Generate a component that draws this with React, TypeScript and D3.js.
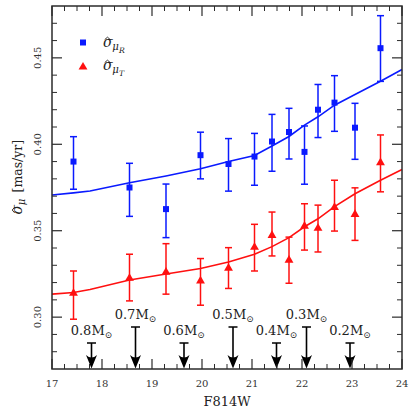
import React from "react";
import * as d3 from "d3";

const W = 416, H = 416;
const M = { left: 52, right: 14, top: 6, bottom: 47 };

// data points
const mags = [17.43, 18.55, 19.28, 19.97, 20.53, 21.05, 21.40, 21.74, 22.05, 22.32, 22.65, 23.06, 23.57];
const sigR = [0.390, 0.375, 0.3625, 0.3937, 0.3886, 0.3929, 0.4016, 0.4071, 0.3956, 0.420, 0.4241, 0.4096, 0.4556];
const sigRLo = [0.374, 0.3583, 0.346, 0.380, 0.3729, 0.3763, 0.3844, 0.3915, 0.3769, 0.4039, 0.4075, 0.3913, 0.4364];
const sigRHi = [0.4044, 0.389, 0.377, 0.407, 0.4033, 0.4063, 0.4173, 0.4208, 0.4106, 0.4346, 0.4397, 0.4237, 0.4744];
const sigT = [0.3138, 0.3225, 0.326, 0.321, 0.3283, 0.3404, 0.3473, 0.333, 0.3526, 0.3514, 0.3635, 0.3594, 0.3894];
const sigTLo = [0.2988, 0.3094, 0.3133, 0.3069, 0.3166, 0.3267, 0.3354, 0.3196, 0.3388, 0.3377, 0.3498, 0.3444, 0.3725];
const sigTHi = [0.3267, 0.3364, 0.3425, 0.3339, 0.3402, 0.3537, 0.3608, 0.3463, 0.3656, 0.3648, 0.3792, 0.3748, 0.4054];

// model curves
const curveX = [17.0, 17.43, 17.76, 18.55, 19.28, 19.97, 20.53, 21.05, 21.40, 21.74, 22.05, 22.32, 22.65, 23.06, 23.57, 24.0];
const curveR = [0.3707, 0.3719, 0.3730, 0.3777, 0.3817, 0.3859, 0.3900, 0.3935, 0.3990, 0.4045, 0.4111, 0.4159, 0.4226, 0.4288, 0.4365, 0.4433];
const curveT = [0.3133, 0.3143, 0.3160, 0.3215, 0.3250, 0.3281, 0.3319, 0.3364, 0.3408, 0.3460, 0.3523, 0.3569, 0.3639, 0.3714, 0.3792, 0.3854];

// mass markers
const massLabels = ["0.8", "0.7", "0.6", "0.5", "0.4", "0.3", "0.2"];
const massMags = [17.79, 18.67, 19.64, 20.62, 21.49, 22.09, 22.96];
const massLong = [false, true, false, true, false, true, false];

const xTicks = [17, 18, 19, 20, 21, 22, 23, 24];
const yTicks = [0.30, 0.35, 0.40, 0.45];
const yTickLabels = ["0.30", "0.35", "0.40", "0.45"];

const BLUE = "#0a1aff";
const RED = "#ff1010";
const AX = "#2b2b2b";
const FONT = "'DejaVu Serif', 'Liberation Serif', serif";
const TS = { fontFamily: FONT };

function Sigma({ x, y, size, sub, subsub }: { x: number; y: number; size: number; sub: string; subsub?: string }) {
  const hw = size * 0.2;
  const hx = x + size * 0.32;
  const hy = y - size * 0.7;
  return (
    <g>
      <text x={x} y={y} fontSize={size} fontStyle="italic" fill="#222" style={TS}>σ</text>
      <path d={`M${hx - hw},${hy + 2.4} L${hx},${hy} L${hx + hw},${hy + 2.4}`} fill="none" stroke="#222" strokeWidth={0.9} />
      <text x={x + size * 0.66} y={y + size * 0.22} fontSize={size * 0.72} fontStyle="italic" fill="#222" style={TS}>{sub}</text>
      {subsub ? (
        <text x={x + size * 1.15} y={y + size * 0.4} fontSize={size * 0.55} fontStyle="italic" fill="#222" style={TS}>{subsub}</text>
      ) : null}
    </g>
  );
}

export default function App() {
  const x = d3.scaleLinear().domain([17, 24]).range([M.left, W - M.right]);
  const y = d3.scaleLinear().domain([0.27, 0.48]).range([H - M.bottom, M.top]);
  const x0 = M.left, x1 = W - M.right, y0 = H - M.bottom, y1 = M.top;

  const line = d3.line<[number, number]>().x(d => x(d[0])).y(d => y(d[1]));
  const pR = line(curveX.map((v, i) => [v, curveR[i]] as [number, number])) || "";
  const pT = line(curveX.map((v, i) => [v, curveT[i]] as [number, number])) || "";

  const xMinor = d3.range(17, 24.001, 0.25).filter(v => Math.abs(v - Math.round(v)) > 1e-6);
  const yMinor = d3.range(0.28, 0.4701, 0.01).filter(v => yTicks.every(t => Math.abs(t - v) > 1e-6));

  const tri = d3.symbol().type(d3.symbolTriangle).size(34)() || "";
  const cap = 3.5;

  return (
    <svg width={W} height={H} style={{ position: "absolute", left: 0, top: 0, background: "#fff", fontFamily: FONT }}>
      {/* curves */}
      <path d={pR} fill="none" stroke={BLUE} strokeWidth={1.6} />
      <path d={pT} fill="none" stroke={RED} strokeWidth={1.6} />

      {/* error bars and markers */}
      {mags.map((m, i) => (
        <g key={"r" + i} stroke={BLUE} strokeWidth={1.5}>
          <line x1={x(m)} x2={x(m)} y1={y(sigRLo[i])} y2={y(sigRHi[i])} />
          <line x1={x(m) - cap} x2={x(m) + cap} y1={y(sigRLo[i])} y2={y(sigRLo[i])} />
          <line x1={x(m) - cap} x2={x(m) + cap} y1={y(sigRHi[i])} y2={y(sigRHi[i])} />
          <rect x={x(m) - 3} y={y(sigR[i]) - 3} width={6} height={6} fill={BLUE} stroke="none" />
        </g>
      ))}
      {mags.map((m, i) => (
        <g key={"t" + i} stroke={RED} strokeWidth={1.5}>
          <line x1={x(m)} x2={x(m)} y1={y(sigTLo[i])} y2={y(sigTHi[i])} />
          <line x1={x(m) - cap} x2={x(m) + cap} y1={y(sigTLo[i])} y2={y(sigTLo[i])} />
          <line x1={x(m) - cap} x2={x(m) + cap} y1={y(sigTHi[i])} y2={y(sigTHi[i])} />
          <path d={tri} transform={`translate(${x(m)},${y(sigT[i])})`} fill={RED} stroke="none" />
        </g>
      ))}

      {/* mass arrows */}
      {massMags.map((m, i) => {
        const cx = x(m);
        const top = massLong[i] ? y0 - 42 : y0 - 26;
        return (
          <g key={"a" + i}>
            <line x1={cx - 4.5} x2={cx + 4.5} y1={top} y2={top} stroke="#000" strokeWidth={1.5} />
            <line x1={cx} x2={cx} y1={top} y2={y0 - 8} stroke="#000" strokeWidth={1.6} />
            <path d={`M${cx},${y0 - 0.5} L${cx - 5.5},${y0 - 14} Q${cx},${y0 - 9} ${cx + 5.5},${y0 - 14} Z`} fill="#000" />
            <text x={cx} y={top - 8} textAnchor="middle" fontSize={13} fill="#222" style={TS}>
              {massLabels[i]}M<tspan fontSize={9} dy={3}>⊙</tspan>
            </text>
          </g>
        );
      })}

      {/* frame */}
      <rect x={x0} y={y1} width={x1 - x0} height={y0 - y1} fill="none" stroke={AX} strokeWidth={1.5} />

      {/* ticks */}
      {xTicks.map(t => (
        <g key={"xt" + t} stroke={AX} strokeWidth={1.2}>
          <line x1={x(t)} x2={x(t)} y1={y0} y2={y0 - 10} />
          <line x1={x(t)} x2={x(t)} y1={y1} y2={y1 + 10} />
        </g>
      ))}
      {xMinor.map(t => (
        <g key={"xm" + t} stroke={AX} strokeWidth={1}>
          <line x1={x(t)} x2={x(t)} y1={y0} y2={y0 - 5} />
          <line x1={x(t)} x2={x(t)} y1={y1} y2={y1 + 5} />
        </g>
      ))}
      {yTicks.map(t => (
        <g key={"yt" + t} stroke={AX} strokeWidth={1.2}>
          <line x1={x0} x2={x0 + 10} y1={y(t)} y2={y(t)} />
          <line x1={x1} x2={x1 - 10} y1={y(t)} y2={y(t)} />
        </g>
      ))}
      {yMinor.map(t => (
        <g key={"ym" + t} stroke={AX} strokeWidth={1}>
          <line x1={x0} x2={x0 + 5} y1={y(t)} y2={y(t)} />
          <line x1={x1} x2={x1 - 5} y1={y(t)} y2={y(t)} />
        </g>
      ))}

      {/* tick labels */}
      {xTicks.map(t => (
        <text key={"xl" + t} x={x(t)} y={y0 + 18} textAnchor="middle" fontSize={10} fill="#333" style={TS}>{t}</text>
      ))}
      {yTicks.map((t, i) => (
        <text key={"yl" + t} transform={`translate(${x0 - 11},${y(t)}) rotate(-90)`} textAnchor="middle" fontSize={10} fill="#333" style={TS}>{yTickLabels[i]}</text>
      ))}

      {/* axis labels */}
      <text x={(x0 + x1) / 2} y={y0 + 37} textAnchor="middle" fontSize={13} fill="#222" style={TS}>F814W</text>
      <g transform={`translate(22,${(y0 + y1) / 2 - 10}) rotate(-90)`}>
        <Sigma x={-37} y={0} size={14} sub="μ" />
        <text x={-15} y={0} fontSize={12.5} fill="#222" style={TS}>[mas/yr]</text>
      </g>

      {/* legend */}
      <rect x={80} y={39.5} width={6} height={6} fill={BLUE} />
      <Sigma x={103} y={47} size={14} sub="μ" subsub="R" />
      <path d={tri} transform="translate(83,67)" fill={RED} />
      <Sigma x={103} y={70} size={14} sub="μ" subsub="T" />
    </svg>
  );
}
